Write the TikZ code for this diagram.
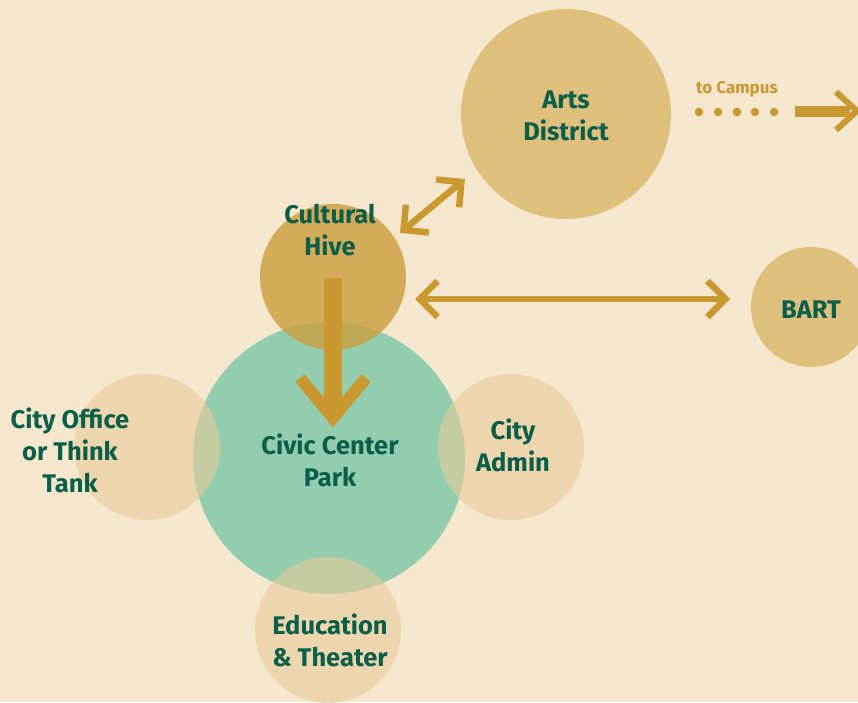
\documentclass[tikz,border=0pt]{standalone}
\usepackage{fontspec}
\setmainfont{Fira Sans}
\usetikzlibrary{arrows.meta}
\definecolor{bg}{HTML}{F5E7CD}
\definecolor{arts}{HTML}{DEBF7B}
\definecolor{hive}{HTML}{CC9E3C}
\definecolor{park}{HTML}{92CDB0}
\definecolor{side}{HTML}{E8CC9A}
\definecolor{gold}{HTML}{C9982E}
\definecolor{ink}{HTML}{0B5E4A}
\tikzset{
  x=1pt,y=1pt,
  lbl/.style={font=\bfseries\fontsize{25.5}{32}\selectfont, text=ink, align=center},
  small/.style={font=\bfseries\fontsize{17}{19}\selectfont, text=gold},
  dbl/.style={draw=gold, line width=6.5pt, {Straight Barb[length=18pt,width=36pt]}-{Straight Barb[length=18pt,width=36pt]}},
}
\begin{document}
\begin{tikzpicture}
\useasboundingbox (0,0) rectangle (858,702);
\fill[bg] (0,0) rectangle (858,702);
% circles
\fill[arts] (566,588) circle (105);
\fill[park] (329,244) circle (136);
\fill[side, fill opacity=0.6] (147,255) circle (73);
\fill[side, fill opacity=0.6] (511,255) circle (73);
\fill[side, fill opacity=0.6] (328,72) circle (73);
\fill[hive, fill opacity=0.8] (333,425) circle (73);
\fill[arts] (811,395) circle (60);
% coordinates
\coordinate (hiveC) at (333,424);
\coordinate (parkTip) at (333,284);
\coordinate (hiveR) at (415,403);
\coordinate (bartL) at (730,403);
\coordinate (hiveNE) at (400,469);
\coordinate (artsSW) at (465,523);
\coordinate (campStart) at (795,591);
\coordinate (campEnd) at (857,591);
% vertical arrow
\fill[gold] (324,424) rectangle (342,294);
\draw[gold, line width=12pt, miter limit=10] (300,324) -- (parkTip) -- (366,324);
% double arrows
\draw[dbl] (hiveR) -- (bartL);
\draw[dbl] (hiveNE) -- (artsSW);
% campus
\foreach \x in {699,718,737,755,774} \fill[gold] (\x,590) circle (4.3);
\fill[gold] (795,585) rectangle (850,596);
\draw[gold, line width=6pt] (836,610) -- (campEnd) -- (836,572);
% labels
\node[lbl] (arts) at (566,586) {Arts\\District};
\node[lbl] (hive) at (330,472) {Cultural\\Hive};
\node[lbl] (park) at (330,242) {Civic Center\\Park};
\node[lbl] (office) at (70,252) {City Office\\or Think\\Tank};
\node[lbl] (admin) at (513,257) {City\\Admin};
\node[lbl] (edu) at (330,62) {Education\\\& Theater};
\node[lbl] (bart) at (811,392) {BART};
\node[small] (campus) at (737,613) {to Campus};
\end{tikzpicture}
\end{document}
